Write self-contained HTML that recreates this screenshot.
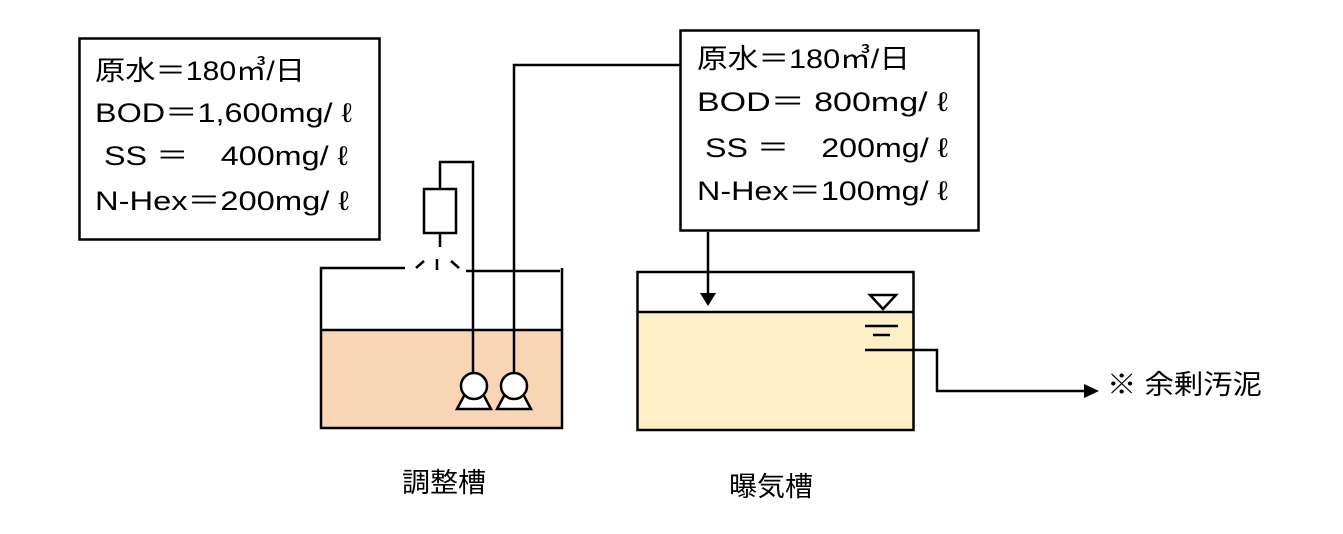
<!DOCTYPE html>
<html><head><meta charset="utf-8"><style>
html,body{margin:0;padding:0;background:#fff;}
svg{display:block}
text{font-family:"Liberation Sans","Noto Sans CJK JP",sans-serif;font-size:27px;fill:#000}
</style></head><body>
<svg width="1343" height="534" viewBox="0 0 1343 534" xmlns="http://www.w3.org/2000/svg">
<!-- left box -->
<rect x="79.5" y="38.5" width="300" height="201" fill="#fff" stroke="#000" stroke-width="2.5"/>
<text x="95" y="80" textLength="210" lengthAdjust="spacingAndGlyphs">原水＝180㎥/日</text>
<text x="95" y="122" textLength="257" lengthAdjust="spacingAndGlyphs">BOD＝1,600mg/ ℓ</text>
<text x="104" y="165" textLength="244" lengthAdjust="spacingAndGlyphs" xml:space="preserve">SS ＝　400mg/ ℓ</text>
<text x="95" y="210" textLength="254" lengthAdjust="spacingAndGlyphs">N-Hex＝200mg/ ℓ</text>
<!-- right box -->
<rect x="680.5" y="30.5" width="298" height="200" fill="#fff" stroke="#000" stroke-width="2.5"/>
<text x="697" y="68" textLength="213" lengthAdjust="spacingAndGlyphs">原水＝180㎥/日</text>
<text x="697" y="111" textLength="251" lengthAdjust="spacingAndGlyphs" xml:space="preserve">BOD＝ 800mg/ ℓ</text>
<text x="705" y="157" textLength="243" lengthAdjust="spacingAndGlyphs" xml:space="preserve">SS ＝　200mg/ ℓ</text>
<text x="697" y="200" textLength="251" lengthAdjust="spacingAndGlyphs">N-Hex＝100mg/ ℓ</text>

<!-- left tank -->
<rect x="322" y="330" width="240" height="98" fill="#f8d5b5"/>
<g stroke="#000" stroke-width="2.5" fill="none">
<polyline points="405,268 321,268 321,428 562,428 562,268"/>
<line x1="466" y1="271" x2="560" y2="271"/>
<line x1="321" y1="330" x2="562" y2="330"/>
<line x1="416" y1="268" x2="424" y2="261"/>
<line x1="437" y1="259" x2="437" y2="270"/>
<line x1="451" y1="261" x2="459" y2="268"/>
<line x1="440" y1="234" x2="440" y2="247"/>
<rect x="424" y="189" width="32" height="44"/>
<polyline points="440,189 440,162 473,162 473,373"/>
<polyline points="514,373 514,65 680,65"/>
</g>
<g stroke="#000" stroke-width="2.5" fill="#fff">
<polygon points="465,394 483,394 491,409 457,409"/>
<circle cx="474" cy="386" r="13"/>
<polygon points="505,394 523,394 531,409 497,409"/>
<circle cx="514" cy="386" r="13"/>
</g>

<!-- right tank -->
<rect x="638" y="312" width="276" height="118" fill="#fdf0c6"/>
<g stroke="#000" stroke-width="2.5" fill="none">
<rect x="637.5" y="272" width="276" height="158"/>
<line x1="637" y1="312" x2="914" y2="312"/>
<line x1="708" y1="232" x2="708" y2="294"/>
<polygon points="870,295 896,295 883,309"/>
<line x1="865" y1="326" x2="898" y2="326"/>
<line x1="873" y1="335" x2="890" y2="335"/>
<polyline points="865,350 937,350 937,391 1085,391"/>
</g>
<polygon points="700,293 716,293 708,306" fill="#000"/>
<polygon points="1084,384 1099,391 1084,398" fill="#000"/>

<text x="1107" y="394" textLength="155" lengthAdjust="spacingAndGlyphs">※ 余剰汚泥</text>
<text x="402" y="492" textLength="84" lengthAdjust="spacingAndGlyphs">調整槽</text>
<text x="729" y="496" textLength="84" lengthAdjust="spacingAndGlyphs">曝気槽</text>
</svg>
</body></html>
